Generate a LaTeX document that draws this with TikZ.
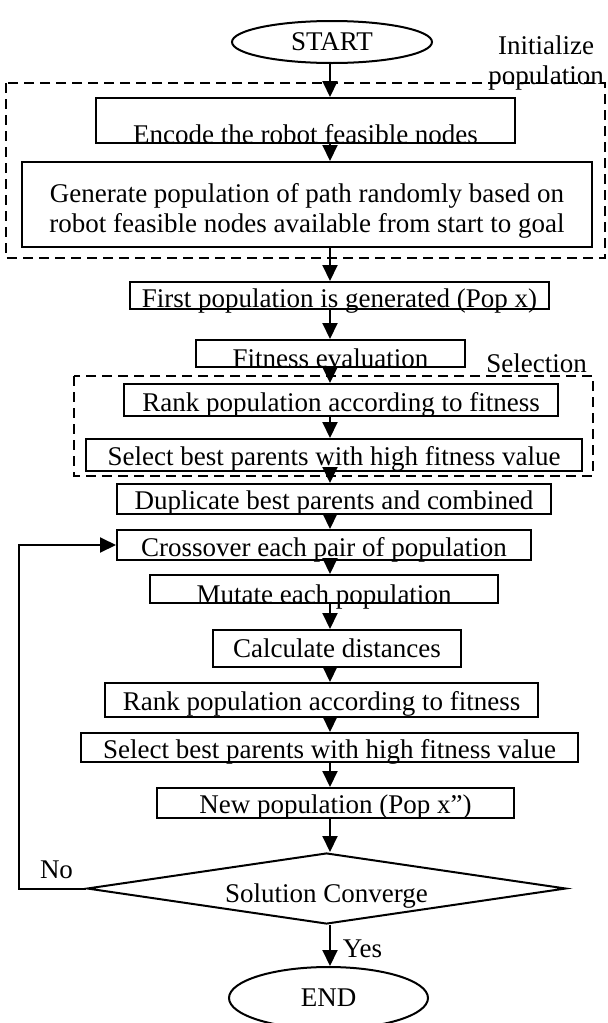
\documentclass[tikz,border=0pt]{standalone}
\usepackage{fontspec}
\setmainfont{Liberation Serif}
\usetikzlibrary{shapes.geometric,arrows.meta}

\begin{document}
\begin{tikzpicture}[x=0.5pt, y=-0.5pt,
  every node/.style={font=\fontsize{13.5}{15}\selectfont},
  process/.style 2 args={draw, line width=1pt, anchor=base, inner sep=0pt, text height=#1, text depth=#2},
  terminal/.style={draw, ellipse, line width=1pt, inner sep=0pt},
  decision/.style={draw, diamond, line width=1pt, inner sep=0pt, shape aspect=6.75,
                   minimum width=239.5pt, minimum height=35.5pt, text height=14pt, text depth=0pt},
  dashbox/.style={draw, line width=0.8pt, dash pattern=on 5pt off 3pt},
  flow/.style={line width=1pt, -{Triangle[length=8pt,width=7.5pt]}}]

\useasboundingbox (0,0) rectangle (608,1023);

% GA path planning flow chart

\coordinate (axis) at (330,0);

\node[terminal, minimum width=100pt, minimum height=21pt] (start) at (332,42) {START};

\node[process={22.5pt}{0pt}, minimum width=209.5pt] (encode) at (305.5,143) {Encode the robot feasible nodes};
\node[draw, line width=1pt, align=center, inner sep=0pt, minimum width=285pt, minimum height=42.5pt] (generate) at (307,204.5)
  {\rule{0pt}{16pt}Generate population of path randomly based on\\robot feasible nodes available from start to goal};
\node[process={12.5pt}{1pt}, minimum width=209.5pt] (first) at (339.5,307) {First population is generated (Pop x)};
\node[process={13.5pt}{0pt}, minimum width=134.5pt] (fitness) at (330.5,367) {Fitness evaluation};
\node[process={13.5pt}{2.5pt}, minimum width=217pt] (rank) at (341,411) {Rank population according to fitness};
\node[process={13pt}{3pt}, minimum width=248pt] (select) at (334,465) {Select best parents with high fitness value};
\node[process={12.5pt}{2.5pt}, minimum width=217pt] (dup) at (334,509) {Duplicate best parents and combined};
\node[process={13pt}{2pt}, minimum width=207pt] (cross) at (324,556) {Crossover each pair of population};
\node[process={14pt}{0pt}, minimum width=174pt] (mutate) at (324,603) {Mutate each population};
\node[process={13.5pt}{5pt}, minimum width=124pt] (dist) at (337,657) {Calculate distances};
\node[process={13.5pt}{3.5pt}, minimum width=216.5pt] (rankb) at (321.5,710) {Rank population according to fitness};
\node[process={12.5pt}{2pt}, minimum width=248.5pt] (selectb) at (329.5,758) {Select best parents with high fitness value};
\node[process={12.5pt}{2.5pt}, minimum width=178.5pt] (newpop) at (335.5,813) {New population (Pop x”)};

\node[decision] (conv) at (326.5,888.5) {Solution Converge};

\node[terminal, minimum width=99.5pt, minimum height=31pt] (end) at (328.5,998) {END};

% group labels and answers
\node[align=center] (init) at (546,63) {Initialize\\population};
\node[anchor=base] (sel) at (536.5,372) {Selection};
\node[anchor=base] (no) at (56.5,878) {No};
\node[anchor=base] (yes) at (362.5,957) {Yes};

\draw[dashbox] (6,83) rectangle (605,258);
\draw[dashbox] (74,376) rectangle (593,476);

\foreach \from/\to in {start/encode, encode/generate, generate/first, first/fitness,
                       fitness/rank, rank/select, select/dup, dup/cross,
                       cross/mutate, mutate/dist, dist/rankb, rankb/selectb,
                       selectb/newpop, newpop/conv, conv/end}
    \draw[flow] (\from.south -| axis) -- (\to.north -| axis);

\draw[flow] (conv.west) -- ++(-67,0) |- (cross.west);

\end{tikzpicture}
\end{document}
